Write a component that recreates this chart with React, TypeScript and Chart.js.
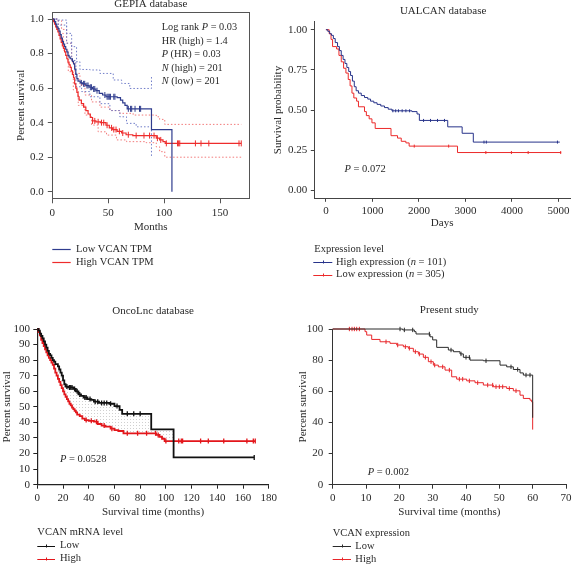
import React, { useEffect, useRef } from "react";
import { Chart, registerables } from "chart.js";

Chart.register(...registerables);

const SERIF = "'Liberation Serif', 'Times New Roman', Times, serif";
const INK = "#2a2a2a";

// ---------------- tick values ----------------
const gepiaXTicks = [0, 50, 100, 150];
const gepiaYTicks = [0, 0.2, 0.4, 0.6, 0.8, 1.0];
const ualXTicks = [0, 1000, 2000, 3000, 4000, 5000];
const ualYTicks = [0, 0.25, 0.5, 0.75, 1.0];
const oncoXTicks = [0, 20, 40, 60, 80, 100, 120, 140, 160, 180];
const oncoYTicks = [0, 10, 20, 30, 40, 50, 60, 70, 80, 90, 100];
const presXTicks = [0, 10, 20, 30, 40, 50, 60, 70];
const presYTicks = [0, 20, 40, 60, 80, 100];

// ---------------- GEPIA (months, survival fraction) ----------------
const gepiaLowT = [0, 2, 3, 4, 5, 6, 7, 8, 9, 10, 11, 12, 13, 14, 15, 16, 18, 19, 20, 21, 22, 23, 25, 27, 30, 33, 36, 39, 42, 45, 48, 58, 61, 63, 65, 67, 88.7, 107];
const gepiaLowS = [1, 0.985, 0.97, 0.955, 0.945, 0.93, 0.91, 0.89, 0.87, 0.855, 0.84, 0.825, 0.81, 0.79, 0.78, 0.77, 0.755, 0.74, 0.71, 0.68, 0.655, 0.64, 0.63, 0.625, 0.615, 0.605, 0.595, 0.585, 0.57, 0.56, 0.55, 0.545, 0.53, 0.515, 0.5, 0.48, 0.36, 0];
const gepiaLowCens = [26, 28, 29, 31, 32, 34, 35, 37, 38, 40, 47, 49, 50, 51, 52, 55, 56, 68, 70, 71, 74, 78, 79];
const gepiaHighT = [0, 1, 2, 3, 4, 5, 6, 7, 8, 9, 10, 11, 12, 13, 14, 15, 16, 17, 18, 19, 20, 21, 22, 23, 24, 26, 28, 30, 32, 34, 36, 39, 43, 48, 51, 54, 58, 62, 66, 72, 93, 96, 99, 101, 169];
const gepiaHighS = [1, 0.985, 0.97, 0.955, 0.94, 0.925, 0.905, 0.885, 0.865, 0.845, 0.83, 0.81, 0.79, 0.77, 0.75, 0.735, 0.72, 0.7, 0.68, 0.66, 0.625, 0.6, 0.575, 0.55, 0.53, 0.51, 0.49, 0.47, 0.45, 0.43, 0.41, 0.405, 0.4, 0.385, 0.37, 0.36, 0.35, 0.34, 0.33, 0.325, 0.31, 0.3, 0.29, 0.28, 0.28];
const gepiaHighCens = [36, 38, 41, 44, 46, 49, 53, 55, 57, 60, 63, 68, 75, 82, 87, 91, 94, 97, 102, 112, 113, 114, 128, 133, 140, 167, 169];
const gepiaLowUpT = [0, 5.4, 12.8, 17.3, 21.7, 24.7, 33.6, 42.6, 54.5, 62, 69.3, 88.7];
const gepiaLowUpS = [1, 0.994, 0.917, 0.84, 0.753, 0.708, 0.705, 0.685, 0.647, 0.627, 0.598, 0.666];
const gepiaLowLoT = [0, 5.4, 12.8, 17.3, 21.1, 26.2, 33.6, 42.6, 51.5, 60.4, 66.4, 75, 88.7];
const gepiaLowLoS = [1, 0.965, 0.86, 0.76, 0.608, 0.58, 0.55, 0.51, 0.47, 0.434, 0.396, 0.376, 0.2];
const gepiaHighUpT = [0, 3.9, 8.3, 12.8, 17.3, 20.2, 24.7, 29.2, 35.1, 42.6, 51.5, 60.4, 72.3, 93, 96, 100.6, 169];
const gepiaHighUpS = [1, 0.99, 0.94, 0.86, 0.75, 0.685, 0.618, 0.56, 0.52, 0.49, 0.47, 0.454, 0.444, 0.434, 0.419, 0.39, 0.39];
const gepiaHighLoT = [0, 5.4, 9.8, 14.3, 18.8, 23.2, 29.2, 35.1, 41, 48.5, 57.4, 66.4, 84, 93, 96, 100.6, 169];
const gepiaHighLoS = [1, 0.917, 0.82, 0.695, 0.59, 0.5, 0.444, 0.386, 0.347, 0.328, 0.3, 0.29, 0.284, 0.26, 0.232, 0.2, 0.2];

// ---------------- UALCAN (days, survival probability) ----------------
const ualHighT = [0, 40, 80, 120, 160, 200, 250, 290, 330, 370, 410, 450, 490, 530, 570, 610, 650, 700, 760, 830, 900, 960, 1030, 1100, 1180, 1260, 1340, 1420, 1850, 1960, 2010, 2620, 2930, 3170, 5030];
const ualHighS = [1, 0.99, 0.975, 0.965, 0.945, 0.92, 0.895, 0.87, 0.84, 0.815, 0.79, 0.765, 0.74, 0.715, 0.68, 0.645, 0.62, 0.605, 0.59, 0.578, 0.568, 0.555, 0.545, 0.535, 0.525, 0.515, 0.505, 0.495, 0.49, 0.475, 0.435, 0.395, 0.355, 0.3, 0.3];
const ualHighCens = [1440, 1500, 1560, 1640, 1720, 1800, 2100, 2250, 2400, 2550, 3400, 3450, 4980];
const ualLowT = [0, 70, 110, 143, 230, 280, 330, 380, 430, 480, 520, 560, 600, 660, 700, 830, 870, 930, 990, 1060, 1400, 1540, 1620, 1720, 1790, 2830, 5060];
const ualLowS = [1, 0.975, 0.94, 0.895, 0.88, 0.84, 0.8, 0.76, 0.73, 0.69, 0.65, 0.605, 0.575, 0.555, 0.52, 0.49, 0.465, 0.445, 0.42, 0.385, 0.34, 0.325, 0.305, 0.295, 0.275, 0.235, 0.235];
const ualLowCens = [1900, 2640, 3440, 3990, 4350, 5050];

// ---------------- OncoLnc (months, percent) ----------------
const oncoLowT = [0, 1, 2, 3, 4, 5, 6, 7, 8, 9, 10, 11, 12, 13, 14, 16, 17, 18, 19, 20, 21, 22, 24, 28, 30, 32, 34, 36, 39, 42, 44, 48, 56, 60, 64, 66, 88.6, 106, 168.7];
const oncoLowS = [100, 99, 97, 95.5, 94, 92, 90, 88, 86, 84, 83, 81.5, 80, 79, 77.5, 76, 74, 72, 70, 67, 64.5, 63, 62.5, 61.5, 60, 58, 57, 56, 55, 54.5, 53.3, 52.5, 52, 50.5, 48, 45.5, 35.5, 17.5, 17.5];
const oncoLowCens = [23, 25, 26, 27, 29, 31, 33, 37, 38, 41, 45, 47, 50, 52, 54, 57, 62, 70, 75, 80, 168.7];
const oncoHighT = [0, 1, 2, 3, 4, 5, 6, 7, 8, 9, 10, 11, 12, 13, 14, 15, 16, 17, 18, 19, 20, 21, 22, 23, 24, 25, 26, 27, 28, 29, 30, 31, 33, 35, 37, 40, 44, 47, 50, 53, 57, 60, 63, 67, 92.5, 95, 97, 99, 169.5];
const oncoHighS = [100, 98, 96, 93, 91, 89, 87, 85, 83, 81.5, 80, 78.5, 77, 74.5, 72, 70, 68, 66, 64, 62, 60, 58, 56.5, 55, 53.5, 52, 51, 49.5, 48.5, 47.5, 46.5, 45, 44, 42.5, 41.5, 41, 40.5, 39, 38, 37.3, 36, 35, 34.5, 33, 32, 30.8, 29.5, 28, 28];
const oncoHighCens = [38, 42, 46, 52, 58, 70, 78, 85, 92, 94, 100, 110, 112, 113, 127, 133, 145, 163, 168, 169.5];

// ---------------- Present study (months, percent) ----------------
const presLowT = [0, 21, 24.5, 25, 29.2, 30, 31.2, 34.7, 36.2, 38.2, 39.2, 41.2, 45.2, 50.2, 52.2, 54.2, 56.2, 57.2, 60];
const presLowS = [100, 99.4, 98.3, 96.8, 95, 93, 88.2, 86.5, 85.4, 84, 81.8, 80, 79.6, 76.8, 75.7, 74, 71.8, 70.4, 43];
const presLowCens = [20.2, 21.5, 24, 29, 35.5, 38.5, 40, 41, 46, 53.5, 55.5, 58, 59.2];
const presHighT = [0, 9.7, 10.2, 11.7, 14.2, 17.2, 19.2, 21.2, 22.7, 24.2, 25.7, 27.2, 28.7, 30.2, 31.7, 33.7, 35.7, 37.2, 40.2, 42.7, 45.2, 48.2, 52.2, 54.2, 56.2, 57.2, 59.2, 59.7, 60];
const presHighS = [100, 98.3, 96.1, 93.3, 91.8, 90.8, 89.7, 88.6, 87.6, 85.4, 83.9, 81.8, 79, 76.8, 75.7, 73.6, 69.3, 67.8, 66.7, 65.5, 64, 62.9, 61.8, 60.3, 57.5, 55.4, 54.3, 53.2, 35.4];
const presHighCens = [5, 5.8, 6.5, 7.2, 8, 16, 19.5, 21.8, 23, 24.8, 26, 27.8, 29.5, 30.6, 33, 35, 38, 39, 41, 43.5, 46.5, 48, 49, 50, 51, 53, 55];

// ---------------- helpers ----------------
type Pt = { x: number; y: number };
const steps = (t: number[], s: number[]): Pt[] => t.map((x, i) => ({ x, y: s[i] }));
const survAt = (t: number[], s: number[], time: number) => {
  let v = s[0];
  for (let i = 0; i < t.length; i++) {
    if (t[i] <= time) v = s[i];
    else break;
  }
  return v;
};
const marks = (t: number[], s: number[], c: number[]): Pt[] => c.map((x) => ({ x, y: survAt(t, s, x) }));

const curve = (data: Pt[], color: string, width: number, dash: number[] = [], extra: any = {}) => ({
  data,
  borderColor: color,
  backgroundColor: color,
  borderWidth: width,
  borderDash: dash,
  stepped: "before",
  pointRadius: 0,
  pointHoverRadius: 0,
  fill: false,
  tension: 0,
  clip: 8,
  ...extra,
});
const censor = (data: Pt[], color: string, r: number, w: number) => ({
  data,
  showLine: false,
  borderColor: color,
  backgroundColor: color,
  pointStyle: "line",
  rotation: 90,
  pointRadius: r,
  pointBorderWidth: w,
  pointHoverRadius: 0,
  clip: 8,
});

const font = (size: number) => ({ family: SERIF, size });

function axis(o: any, horizontal: boolean) {
  return {
    type: "linear",
    position: horizontal ? "bottom" : "left",
    min: o.min,
    max: o.max,
    afterBuildTicks: (s: any) => {
      s.ticks = o.ticks.map((v: number) => ({ value: v }));
    },
    ticks: {
      autoSkip: false,
      maxRotation: 0,
      padding: o.pad,
      color: INK,
      font: font(11),
      callback: o.fmt || ((v: number) => String(Math.round(v))),
    },
    grid: { drawOnChartArea: false, drawTicks: true, tickLength: o.tickLen, color: o.axis, tickColor: o.axis, tickWidth: 1 },
    border: { display: true, color: o.axis, width: o.bw || 1 },
    title: {
      display: true,
      text: o.title,
      color: INK,
      font: font(11),
      padding: { top: horizontal ? 0 : o.titlePad, bottom: 0 },
    },
    afterFit: (s: any) => {
      if (horizontal) s.height = o.size;
      else s.width = o.size;
    },
  };
}

type Part = { t: string; i?: boolean };
function drawRich(ctx: CanvasRenderingContext2D, parts: Part[], x: number, y: number, size: number) {
  let cx = x;
  for (const p of parts) {
    ctx.font = `${p.i ? "italic " : ""}${size}px ${SERIF}`;
    ctx.fillText(p.t, cx, y);
    cx += ctx.measureText(p.t).width;
  }
}

function makeDecor(cfg: any) {
  return {
    id: "decor",
    afterDraw(chart: any) {
      const { ctx, chartArea: ca, scales } = chart;
      ctx.save();
      ctx.textBaseline = "middle";
      if (cfg.box) {
        ctx.strokeStyle = cfg.box.color;
        ctx.lineWidth = cfg.box.width;
        ctx.strokeRect(Math.round(ca.left) + 0.5, Math.round(ca.top) + 0.5, Math.round(ca.right - ca.left), Math.round(ca.bottom - ca.top));
      }
      ctx.fillStyle = INK;
      if (cfg.title) {
        ctx.textAlign = "center";
        ctx.font = `11px ${SERIF}`;
        ctx.fillText(cfg.title.text, (ca.left + ca.right) / 2 + (cfg.title.dx || 0), cfg.title.y);
      }
      ctx.textAlign = "left";
      if (cfg.note) {
        const n = cfg.note;
        const x = scales.x.getPixelForValue(n.x);
        let y = scales.y.getPixelForValue(n.y);
        for (const line of n.lines) {
          drawRich(ctx, line, x, y, n.size);
          y += n.gap;
        }
      }
      if (cfg.legend) {
        const lg = cfg.legend;
        let y = lg.y;
        const x0 = ca.left + lg.dx;
        if (lg.title) {
          ctx.fillStyle = INK;
          drawRich(ctx, [{ t: lg.title }], ca.left + (lg.titleDx || 0), y, lg.size);
          y += lg.gap;
        }
        for (const it of lg.items) {
          ctx.strokeStyle = it.color;
          ctx.lineWidth = it.width;
          ctx.beginPath();
          ctx.moveTo(x0, Math.round(y) + 0.5);
          ctx.lineTo(x0 + lg.len, Math.round(y) + 0.5);
          if (lg.tick) {
            const mx = Math.round(x0 + lg.len / 2) + 0.5;
            ctx.moveTo(mx, Math.round(y) - 1.5);
            ctx.lineTo(mx, Math.round(y) + 1.5);
          }
          ctx.stroke();
          ctx.fillStyle = INK;
          drawRich(ctx, it.parts, x0 + lg.textDx, y, lg.size);
          y += lg.gap;
        }
      }
      ctx.restore();
    },
  };
}

function dotPattern(): any {
  const c = document.createElement("canvas");
  c.width = 3;
  c.height = 3;
  const g = c.getContext("2d");
  if (!g) return "rgba(150,150,150,0.2)";
  g.fillStyle = "rgba(120,120,120,0.35)";
  g.fillRect(1, 1, 1, 1);
  return g.createPattern(c, "repeat") || "rgba(150,150,150,0.2)";
}

// ---------------- colours ----------------
const G_BLUE = "#2f3c8e";
const G_RED = "#ee2c2c";
const G_BLUE_CI = "#6f7cc8";
const G_RED_CI = "#f27a7a";
const U_BLUE = "#27338a";
const U_RED = "#ec2a2a";
const O_BLACK = "#111111";
const O_RED = "#e3161b";
const P_BLACK = "#2a2a2a";
const P_RED = "#e8262a";

function gepiaConfig() {
  return {
    data: {
      datasets: [
        curve(steps(gepiaLowT, gepiaLowS), G_BLUE, 1.2),
        curve(steps(gepiaHighT, gepiaHighS), G_RED, 1.2),
        curve(steps(gepiaLowUpT, gepiaLowUpS), G_BLUE_CI, 1, [1.5, 2]),
        curve(steps(gepiaLowLoT, gepiaLowLoS), G_BLUE_CI, 1, [1.5, 2]),
        curve(steps(gepiaHighUpT, gepiaHighUpS), G_RED_CI, 1, [1.5, 2]),
        curve(steps(gepiaHighLoT, gepiaHighLoS), G_RED_CI, 1, [1.5, 2]),
        censor(marks(gepiaLowT, gepiaLowS, gepiaLowCens), G_BLUE, 3, 1),
        censor(marks(gepiaHighT, gepiaHighS, gepiaHighCens), G_RED, 3, 1),
      ],
    },
    decor: {
      box: { color: "#555", width: 1 },
      title: { text: "GEPIA database", y: 4.5 },
      note: {
        x: 97.9,
        y: 0.95,
        gap: 13.4,
        size: 10.3,
        lines: [
          [{ t: "Log rank " }, { t: "P", i: true }, { t: " = 0.03" }],
          [{ t: "HR (high) = 1.4" }],
          [{ t: "P", i: true }, { t: " (HR) = 0.03" }],
          [{ t: "N", i: true }, { t: " (high) = 201" }],
          [{ t: "N", i: true }, { t: " (low) = 201" }],
        ],
      },
      legend: {
        y: 249.3,
        gap: 12.7,
        dx: 0,
        len: 18.4,
        textDx: 23.7,
        size: 10.5,
        items: [
          { color: G_BLUE, width: 1.2, parts: [{ t: "Low VCAN TPM" }] },
          { color: G_RED, width: 1.2, parts: [{ t: "High VCAN TPM" }] },
        ],
      },
    },
    layout: { padding: { left: 0, top: 12.3, right: 12.7, bottom: 46.7 } },
    x: axis({ min: 0, max: 176.2, ticks: gepiaXTicks, pad: 3, tickLen: 5, axis: "#555", title: "Months", size: 35 }, true),
    y: axis(
      {
        min: -0.038,
        max: 1.039,
        ticks: gepiaYTicks,
        pad: 4,
        tickLen: 4.5,
        axis: "#555",
        title: "Percent survival",
        size: 52.3,
        titlePad: 14.4,
        fmt: (v: number) => v.toFixed(1),
      },
      false
    ),
  };
}

function ualcanConfig() {
  return {
    data: {
      datasets: [
        curve(steps(ualHighT, ualHighS), U_BLUE, 1),
        curve(steps(ualLowT, ualLowS), U_RED, 1),
        censor(marks(ualHighT, ualHighS, ualHighCens), U_BLUE, 1.5, 1),
        censor(marks(ualLowT, ualLowS, ualLowCens), U_RED, 1.5, 1),
      ],
    },
    decor: {
      title: { text: "UALCAN database", y: 10.7, dx: 1 },
      note: { x: 400, y: 0.13, gap: 0, size: 10.5, lines: [[{ t: "P", i: true }, { t: " = 0.072" }]] },
      legend: {
        title: "Expression level",
        y: 249,
        gap: 12.8,
        dx: -1,
        len: 19,
        textDx: 22.7,
        tick: true,
        size: 10.5,
        items: [
          { color: U_BLUE, width: 1, parts: [{ t: "High expression (" }, { t: "n", i: true }, { t: " = 101)" }] },
          { color: U_RED, width: 1, parts: [{ t: "Low expression (" }, { t: "n", i: true }, { t: " = 305)" }] },
        ],
      },
    },
    layout: { padding: { left: 0, top: 21.7, right: 12, bottom: 50.1 } },
    x: axis({ min: -250, max: 5250, ticks: ualXTicks, pad: 3, tickLen: 3.5, axis: "#444", title: "Days", size: 31.6 }, true),
    y: axis(
      {
        min: -0.05,
        max: 1.05,
        ticks: ualYTicks,
        pad: 3.5,
        tickLen: 3.5,
        axis: "#444",
        title: "Survival probability",
        size: 52.3,
        titlePad: 9.4,
        fmt: (v: number) => v.toFixed(2),
      },
      false
    ),
  };
}

function oncoConfig() {
  return {
    data: {
      datasets: [
        curve(steps(oncoLowT, oncoLowS), O_BLACK, 1.8, [], {
          fill: { target: 1, above: dotPattern(), below: "rgba(0,0,0,0)" },
        }),
        curve(steps(oncoHighT, oncoHighS), O_RED, 1.8),
        censor(marks(oncoLowT, oncoLowS, oncoLowCens), O_BLACK, 2.5, 1.3),
        censor(marks(oncoHighT, oncoHighS, oncoHighCens), O_RED, 2.5, 1.3),
      ],
    },
    decor: {
      title: { text: "OncoLnc database", y: 27.7 },
      note: { x: 17.6, y: 16.5, gap: 0, size: 10.5, lines: [[{ t: "P", i: true }, { t: " = 0.0528" }]] },
      legend: {
        title: "VCAN mRNA level",
        y: 249.7,
        gap: 13,
        dx: 0,
        len: 17.7,
        textDx: 22.7,
        tick: true,
        size: 10.5,
        items: [
          { color: O_BLACK, width: 1, parts: [{ t: "Low" }] },
          { color: O_RED, width: 1, parts: [{ t: "High" }] },
        ],
      },
    },
    layout: { padding: { left: 0, top: 46, right: 10.7, bottom: 47.7 } },
    x: axis(
      { min: 0, max: 180, ticks: oncoXTicks, pad: 3, tickLen: 4, axis: "#222", title: "Survival time (months)", size: 33.6, bw: 1.2 },
      true
    ),
    y: axis(
      {
        min: 0,
        max: 100,
        ticks: oncoYTicks,
        pad: 3.3,
        tickLen: 4,
        axis: "#222",
        title: "Percent survival",
        size: 37.3,
        titlePad: 0.1,
        bw: 1.2,
      },
      false
    ),
  };
}

function presentConfig() {
  return {
    data: {
      datasets: [
        curve(steps(presLowT, presLowS), P_BLACK, 1),
        curve(steps(presHighT, presHighS), P_RED, 1),
        censor(marks(presLowT, presLowS, presLowCens), P_BLACK, 2.2, 1),
        censor(marks(presHighT, presHighS, presHighCens), P_RED, 2.2, 1),
      ],
    },
    decor: {
      title: { text: "Present study", y: 27 },
      note: { x: 10.5, y: 8, gap: 0, size: 10.5, lines: [[{ t: "P", i: true }, { t: " = 0.002" }]] },
      legend: {
        title: "VCAN expression",
        y: 250.3,
        gap: 13,
        dx: 0,
        len: 18.3,
        textDx: 22.6,
        tick: true,
        size: 10.5,
        items: [
          { color: P_BLACK, width: 1, parts: [{ t: "Low" }] },
          { color: P_RED, width: 1, parts: [{ t: "High" }] },
        ],
      },
    },
    layout: { padding: { left: 0, top: 46, right: 24, bottom: 47.7 } },
    x: axis(
      { min: 0, max: 70, ticks: presXTicks, pad: 3, tickLen: 4, axis: "#333", title: "Survival time (months)", size: 33.6 },
      true
    ),
    y: axis(
      {
        min: 0,
        max: 100,
        ticks: presYTicks,
        pad: 5.4,
        tickLen: 4,
        axis: "#333",
        title: "Percent survival",
        size: 52.7,
        titlePad: 16.1,
      },
      false
    ),
  };
}

function Panel({ make, left, top, w, h }: { make: () => any; left: number; top: number; w: number; h: number }) {
  const ref = useRef<HTMLCanvasElement | null>(null);
  useEffect(() => {
    if (!ref.current) return;
    const c = make();
    const chart = new Chart(ref.current, {
      type: "line",
      data: c.data,
      options: {
        animation: false,
        responsive: false,
        devicePixelRatio: 1,
        events: [],
        layout: c.layout,
        plugins: { legend: { display: false }, title: { display: false }, tooltip: { enabled: false } },
        scales: { x: c.x, y: c.y },
      } as any,
      plugins: [makeDecor(c.decor)],
    } as any);
    return () => chart.destroy();
  }, []);
  return (
    <canvas
      ref={ref}
      width={w}
      height={h}
      style={{ position: "absolute", left, top, width: w, height: h, display: "block" }}
    />
  );
}

export default function App() {
  return (
    <div
      style={{
        position: "absolute",
        left: 0,
        top: 0,
        width: 572,
        height: 566,
        overflow: "hidden",
        background: "#ffffff",
      }}
    >
      <Panel make={gepiaConfig} left={0} top={0} w={262} h={280} />
      <Panel make={ualcanConfig} left={262} top={0} w={320} h={280} />
      <Panel make={oncoConfig} left={0} top={283} w={280} h={283} />
      <Panel make={presentConfig} left={280} top={283} w={310} h={283} />
    </div>
  );
}
